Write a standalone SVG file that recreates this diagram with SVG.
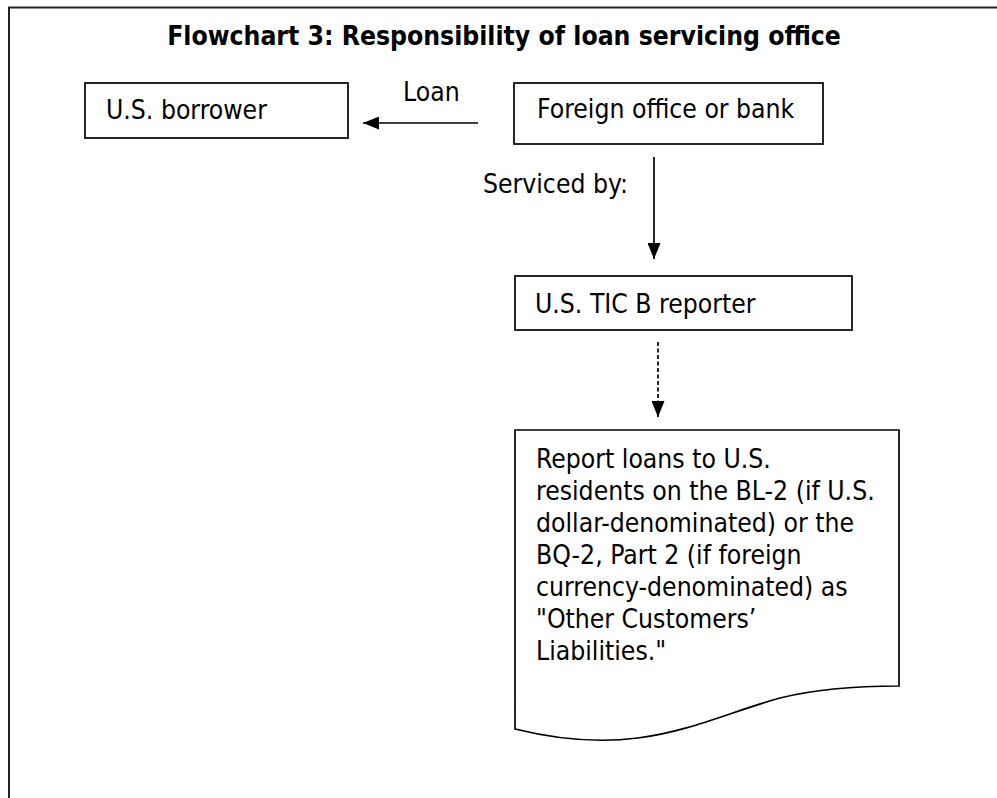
<svg xmlns="http://www.w3.org/2000/svg" width="997" height="798" viewBox="0 0 997 798">
<style>
  text { font-family: "DejaVu Sans Condensed", "DejaVu Sans", sans-serif; fill: #000; }
  .t { font-size: 26.3px; }
  .title { font-size: 26.3px; font-weight: bold; }
  .box { fill: #fff; stroke: #000; stroke-width: 1.7; }
  .conn { stroke: #000; stroke-width: 1.7; fill: none; }
  .dash { stroke-dasharray: 4 2.5; }
</style>
<defs>
  <marker id="ah" markerUnits="userSpaceOnUse" markerWidth="16" markerHeight="13" refX="16" refY="6.5" orient="auto">
    <path d="M0,0 L16,6.5 L0,13 z" fill="#000"/>
  </marker>
</defs>
<rect width="997" height="798" fill="#fff"/>
<rect id="frame" x="9" y="7.5" width="1000" height="900" fill="none" stroke="#222" stroke-width="2"/>
<text class="title" x="504" y="45" text-anchor="middle">Flowchart 3: Responsibility of loan servicing office</text>

<g id="connectors">
  <line class="conn" x1="478" y1="123" x2="363" y2="123" marker-end="url(#ah)"/>
  <text class="t" x="403" y="101">Loan</text>
  <line class="conn" x1="654" y1="157" x2="654" y2="259" marker-end="url(#ah)"/>
  <text class="t" x="483" y="193">Serviced by:</text>
  <line class="conn dash" x1="658" y1="342" x2="658" y2="417" marker-end="url(#ah)"/>
</g>

<g id="borrower">
  <rect class="box" x="85" y="83" width="263" height="55"/>
  <text class="t" x="106" y="119">U.S. borrower</text>
</g>

<g id="foreign">
  <rect class="box" x="514" y="83" width="309" height="61"/>
  <text class="t" x="537" y="118">Foreign office or bank</text>
</g>

<g id="ticb">
  <rect class="box" x="515" y="276" width="337" height="54"/>
  <text class="t" x="535" y="313">U.S. TIC B reporter</text>
</g>

<g id="report">
  <path class="box" d="M515,430 L899,430 L899,686 C860,686 820,688 780,698 C700,720 640,760 515,729 Z"/>
  <text class="t" x="536" y="468">Report loans to U.S.</text>
  <text class="t" x="536" y="500">residents on the BL-2 (if U.S.</text>
  <text class="t" x="536" y="532">dollar-denominated) or the</text>
  <text class="t" x="536" y="564">BQ-2, Part 2 (if foreign</text>
  <text class="t" x="536" y="596">currency-denominated) as</text>
  <text class="t" x="536" y="628">"Other Customers’</text>
  <text class="t" x="536" y="660">Liabilities."</text>
</g>
</svg>
